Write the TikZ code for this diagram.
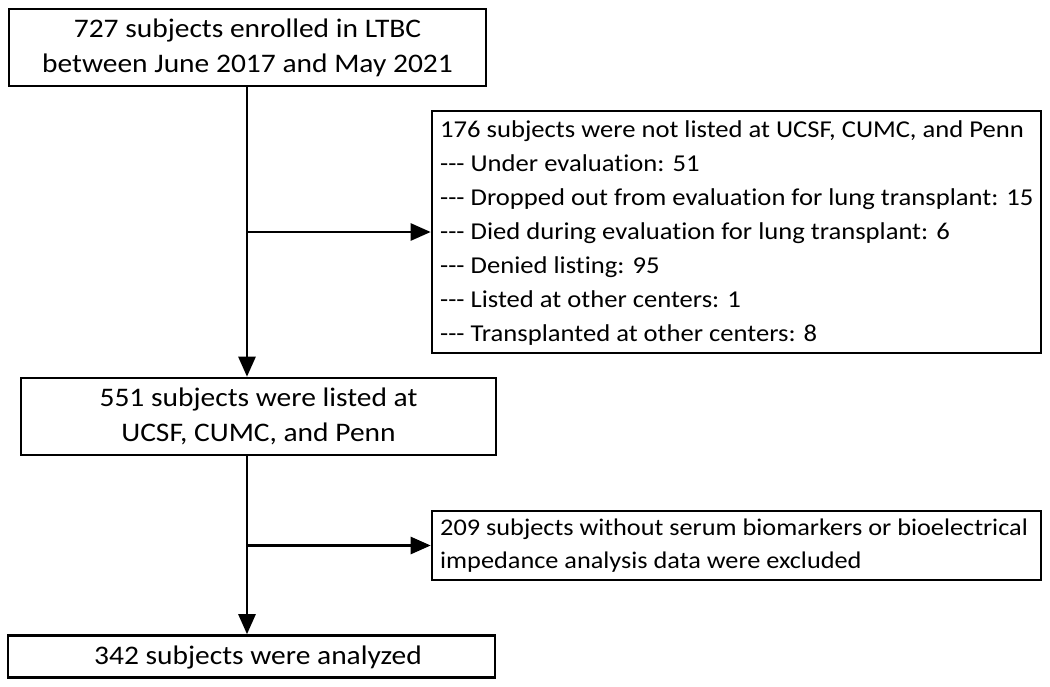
\documentclass[tikz,border=0pt]{standalone}
\usepackage{fontspec}
\setmainfont{Carlito}[FakeStretch=1.1,Ligatures=NoCommon]
\usetikzlibrary{arrows.meta,calc}
\newcommand\dsh{\mbox{-}\mbox{-}\mbox{-}}
\begin{document}
\begin{tikzpicture}[x=1pt,y=-1pt,
  box/.style={draw=black,line width=2.6pt,rectangle,inner sep=0pt},
  txt/.style={inner sep=0pt},
  arr/.style={line width=2.6pt,-{Triangle[length=20pt,width=17pt]}}]
\useasboundingbox[fill=white] (0,0) rectangle (1050,686);
\node[box,minimum width=477pt,minimum height=77pt] (b1) at (247.5,47.5) {};
\node[box,minimum width=609pt,minimum height=242pt] (b2) at (736.5,232) {};
\node[box,minimum width=475pt,minimum height=77pt] (b3) at (258.5,416.5) {};
\node[box,minimum width=609pt,minimum height=69pt] (b5) at (736.5,545.5) {};
\node[box,minimum width=487pt,minimum height=42pt] (b4) at (251.5,656.5) {};
\node[txt,align=center,font=\fontsize{26.8}{35}\selectfont] (t1) at (b1.center)
  {727 subjects enrolled in LTBC\\between June 2017 and May 2021};
\node[txt,align=left,anchor=west,font=\fontsize{24.2}{34}\selectfont] (t2) at (440,233)
  {176 subjects were not listed at UCSF, CUMC, and Penn\\
   \dsh{} Under evaluation: 51\\
   \dsh{} Dropped out from evaluation for lung transplant: 15\\
   \dsh{} Died during evaluation for lung transplant: 6\\
   \dsh{} Denied listing: 95\\
   \dsh{} Listed at other centers: 1\\
   \dsh{} Transplanted at other centers: 8};
\node[txt,align=center,font=\fontsize{26.8}{35}\selectfont] (t3) at (b3.center)
  {551 subjects were listed at\\UCSF, CUMC, and Penn};
\node[txt,align=left,anchor=west,font=\fontsize{23.9}{33}\selectfont] (t5) at (440,546)
  {209 subjects without serum biomarkers or bioelectrical\\impedance analysis data were excluded};
\node[txt,font=\fontsize{26.8}{33}\selectfont] (t4) at (258,657) {342 subjects were analyzed};
\coordinate (s1) at (b1.south -| 247,0);
\coordinate (j1) at (s1 |- b2.west);
\coordinate (e1) at (s1 |- b3.north);
\coordinate (s2) at (s1 |- b3.south);
\coordinate (j2) at (s1 |- b5.west);
\coordinate (e2) at (s1 |- b4.north);
\draw[arr] (s1) -- (e1);
\draw[arr] (j1) -- (b2.west);
\draw[arr] (s2) -- (e2);
\draw[arr] (j2) -- (b5.west);
\end{tikzpicture}
\end{document}
